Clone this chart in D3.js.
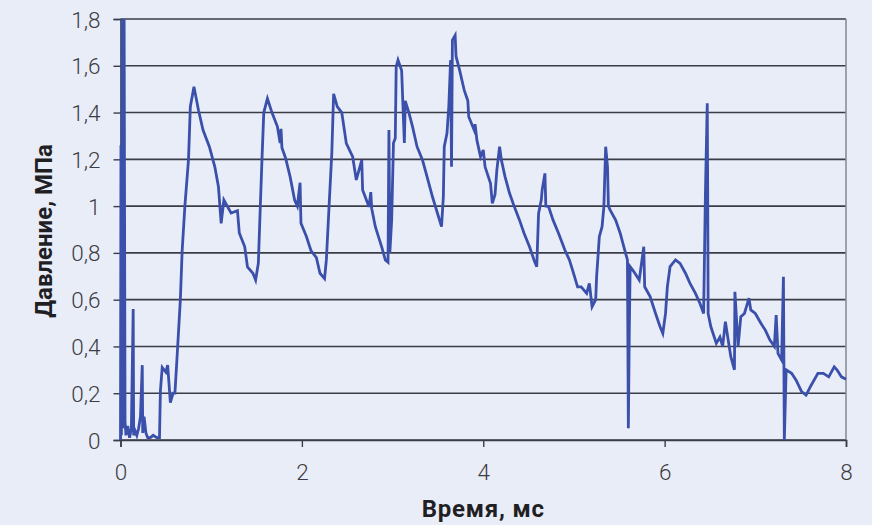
<!DOCTYPE html>
<html>
<head>
  <meta charset="utf-8">
  <title>Давление</title>
  <script src="https://cdnjs.cloudflare.com/ajax/libs/d3/7.8.5/d3.min.js"></script>
  <style>
    body { margin: 0; background: #ffffff; }
    svg { display: block; }
  </style>
</head>
<body>
  <script>
    // время, мс
    const time = [
      0, 0.005, 0.01, 0.02, 0.03, 0.04, 0.05, 0.06, 0.08, 0.1, 0.12, 0.14, 0.145, 0.16, 0.18, 0.2, 0.22, 0.24, 0.245,
      0.26, 0.28, 0.3, 0.33, 0.36, 0.4, 0.43, 0.44, 0.46, 0.5, 0.52, 0.55, 0.58, 0.6, 0.62, 0.66, 0.68, 0.71, 0.75,
      0.77, 0.81, 0.86, 0.91, 0.98, 1.04, 1.08, 1.11, 1.14, 1.22, 1.29, 1.31, 1.37, 1.4, 1.46, 1.49, 1.52, 1.54,
      1.56, 1.58, 1.62, 1.67, 1.73, 1.76, 1.77, 1.78, 1.82, 1.87, 1.92, 1.95, 1.98, 1.99, 2.05, 2.1, 2.16, 2.2,
      2.25, 2.27, 2.3, 2.33, 2.35, 2.39, 2.44, 2.49, 2.56, 2.6, 2.66, 2.67, 2.74, 2.76, 2.77, 2.81, 2.88, 2.92,
      2.95, 2.96, 2.97, 2.99, 3.01, 3.03, 3.04, 3.06, 3.1, 3.13, 3.14, 3.18, 3.22, 3.27, 3.33, 3.38, 3.44, 3.49,
      3.54, 3.56, 3.57, 3.6, 3.62, 3.64, 3.65, 3.66, 3.69, 3.7, 3.74, 3.79, 3.83, 3.84, 3.9, 3.91, 3.93, 3.97,
      4.0, 4.02, 4.08, 4.1, 4.13, 4.15, 4.18, 4.2, 4.24, 4.29, 4.34, 4.4, 4.45, 4.51, 4.56, 4.59, 4.61, 4.64,
      4.65, 4.68, 4.69, 4.72, 4.77, 4.83, 4.9, 4.95, 4.99, 5.04, 5.08, 5.14, 5.17, 5.2, 5.24, 5.25, 5.28, 5.31,
      5.33, 5.35, 5.37, 5.38, 5.4, 5.46, 5.51, 5.56, 5.59, 5.6, 5.61, 5.62, 5.66, 5.72, 5.77, 5.78, 5.84, 5.9,
      5.95, 5.98, 6.01, 6.03, 6.06, 6.12, 6.17, 6.23, 6.28, 6.34, 6.39, 6.43, 6.45, 6.47, 6.475, 6.48, 6.51,
      6.57, 6.61, 6.64, 6.67, 6.7, 6.73, 6.77, 6.775, 6.81, 6.84, 6.88, 6.93, 6.95, 7.0, 7.06, 7.11, 7.16, 7.21,
      7.23, 7.25, 7.29, 7.31, 7.32, 7.34, 7.4, 7.45, 7.51, 7.56, 7.61, 7.69, 7.75, 7.81, 7.87, 7.9, 7.95, 8.0
    ];

    // давление, МПа
    const pressure = [
      0, 1.26, 0.02, 1.8, 0.05, 1.8, 0.08, 0.02, 0.06, 0.01, 0.05, 0.56, 0.02, 0.04, 0.02, 0.05, 0.1, 0.32, 0.03,
      0.1, 0.03, 0.01, 0.01, 0.02, 0.01, 0.01, 0.21, 0.31, 0.29, 0.32, 0.16, 0.2, 0.2, 0.33, 0.6, 0.81, 1.0, 1.2,
      1.425, 1.51, 1.41, 1.325, 1.254, 1.168, 1.083, 0.926, 1.026, 0.97, 0.98, 0.885, 0.826, 0.74, 0.713, 0.684, 0.756, 0.98,
      1.2, 1.4, 1.46, 1.4, 1.34, 1.27, 1.33, 1.25, 1.206, 1.126, 1.026, 1.0, 1.1, 0.927, 0.87, 0.81, 0.78, 0.713,
      0.69, 0.77, 1.0, 1.226, 1.48, 1.425, 1.4, 1.268, 1.211, 1.112, 1.197, 1.069, 0.997, 1.06, 0.99, 0.912, 0.826, 0.77,
      0.76, 1.325, 0.8, 0.94, 1.27, 1.29, 1.596, 1.625, 1.58, 1.27, 1.45, 1.4, 1.34, 1.254, 1.197, 1.126, 1.04, 0.976,
      0.912, 1.04, 1.254, 1.311, 1.425, 1.625, 1.168, 1.71, 1.73, 1.64, 1.58, 1.496, 1.45, 1.382, 1.325, 1.35, 1.282, 1.211,
      1.24, 1.168, 1.098, 1.012, 1.05, 1.154, 1.254, 1.197, 1.126, 1.055, 1.0, 0.94, 0.884, 0.826, 0.77, 0.741, 0.969, 1.026,
      1.07, 1.14, 1.0, 0.998, 0.94, 0.884, 0.812, 0.77, 0.72, 0.655, 0.655, 0.627, 0.67, 0.57, 0.6, 0.698, 0.869, 0.912,
      0.997, 1.254, 1.168, 1.0, 0.983, 0.94, 0.884, 0.812, 0.77, 0.05, 0.456, 0.741, 0.72, 0.684, 0.826, 0.655, 0.613, 0.541,
      0.484, 0.456, 0.541, 0.655, 0.741, 0.77, 0.755, 0.713, 0.67, 0.627, 0.584, 0.541, 1.055, 1.44, 1.05, 0.54, 0.484,
      0.413, 0.44, 0.4, 0.506, 0.43, 0.356, 0.3, 0.634, 0.4, 0.527, 0.541, 0.606, 0.556, 0.541, 0.5, 0.47, 0.428, 0.4,
      0.534, 0.37, 0.342, 0.698, 0, 0.3, 0.285, 0.256, 0.207, 0.192, 0.23, 0.285, 0.285, 0.27, 0.313, 0.3, 0.27, 0.26
    ];

    const xTicks = [0, 2, 4, 6, 8];
    const yTicks = [0, 0.2, 0.4, 0.6, 0.8, 1, 1.2, 1.4, 1.6, 1.8];

    const width = 879, height = 525;
    const margin = { top: 19, right: 33, bottom: 85, left: 120.5 };
    const w = width - margin.left - margin.right;
    const h = height - margin.top - margin.bottom;

    const svg = d3.select("body")
      .append("svg")
      .attr("width", width)
      .attr("height", height);

    svg.append("rect")
      .attr("width", 872)
      .attr("height", height)
      .attr("fill", "#e9edf8");

    const g = svg.append("g")
      .attr("transform", `translate(${margin.left},${margin.top})`);

    const x = d3.scaleLinear().domain([0, 8]).range([0, w]);
    const y = d3.scaleLinear().domain([0, 1.8]).range([h, 0]);

    const fmt = d => d3.format("")(d).replace(".", ",");

    // сетка
    g.append("g")
      .selectAll("line")
      .data(yTicks)
      .join("line")
      .attr("x1", 0)
      .attr("x2", w)
      .attr("y1", d => y(d))
      .attr("y2", d => y(d))
      .attr("stroke", "#3a3d45")
      .attr("stroke-width", 1.6);

    // рамка справа
    g.append("line")
      .attr("x1", w).attr("x2", w)
      .attr("y1", 0).attr("y2", h)
      .attr("stroke", "#8a8d96")
      .attr("stroke-width", 1.6);

    const yAxis = g.append("g")
      .call(d3.axisLeft(y).tickValues(yTicks).tickFormat(fmt).tickSize(7).tickPadding(13));

    const xAxis = g.append("g")
      .attr("transform", `translate(0,${h})`)
      .call(d3.axisBottom(x).tickValues(xTicks).tickFormat(fmt).tickSize(7).tickPadding(17));

    [xAxis, yAxis].forEach(a => {
      a.select(".domain").attr("stroke", "#3a3d45").attr("stroke-width", 1.6);
      a.selectAll(".tick line").attr("stroke", "#3a3d45").attr("stroke-width", 1.4);
      a.selectAll(".tick text")
        .attr("fill", "#3c3c44")
        .style("font-family", "Roboto, sans-serif")
        .style("font-size", "22.5px")
        .style("font-weight", 300);
    });
    yAxis.selectAll(".tick text").attr("dy", "0.36em");

    g.append("clipPath")
      .attr("id", "plot")
      .append("rect")
      .attr("x", -2).attr("y", 0)
      .attr("width", w + 4).attr("height", h + 1);

    const line = d3.line()
      .x(i => x(time[i]))
      .y(i => y(pressure[i]));

    g.append("path")
      .datum(d3.range(time.length))
      .attr("clip-path", "url(#plot)")
      .attr("fill", "none")
      .attr("stroke", "#3b50ab")
      .attr("stroke-width", 2.8)
      .attr("stroke-linejoin", "miter")
      .attr("d", line);

    svg.append("text")
      .attr("x", margin.left + w / 2)
      .attr("y", 517)
      .attr("text-anchor", "middle")
      .attr("fill", "#1f1f24")
      .style("font-family", "Roboto, sans-serif")
      .style("font-size", "24px")
      .style("font-weight", 700)
      .style("letter-spacing", "0.8px")
      .text("Время, мс");

    svg.append("text")
      .attr("transform", `translate(52,231) rotate(-90)`)
      .attr("text-anchor", "middle")
      .attr("fill", "#1f1f24")
      .style("font-family", "Roboto, sans-serif")
      .style("font-size", "24px")
      .style("font-weight", 700)
      .text("Давление, МПа");
  </script>
</body>
</html>
